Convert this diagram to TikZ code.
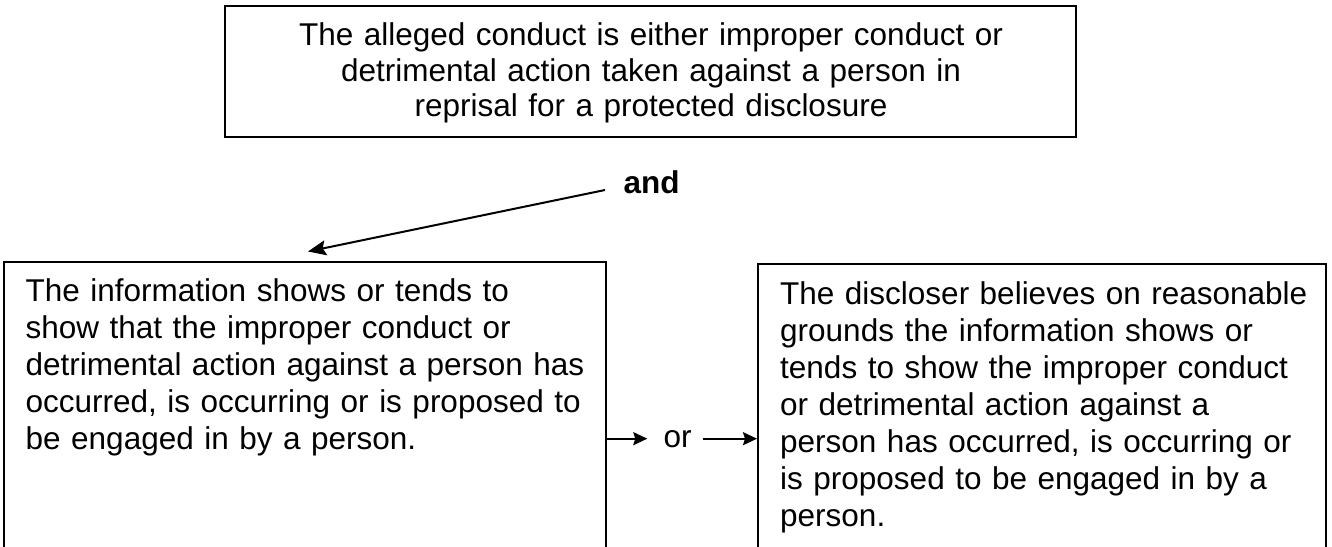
\documentclass[tikz,border=0pt]{standalone}
\usepackage{fontspec}
\setmainfont{Liberation Sans}
\usetikzlibrary{arrows.meta,calc}
\begin{document}
\begin{tikzpicture}[x=1pt,y=-1pt,
  boxshape/.style={draw=black, line width=2pt, rectangle, inner sep=0pt},
  bodytext/.style={inner sep=0pt, font=\fontsize{31.5pt}{36.9pt}\selectfont},
  andarrow/.style={line width=2pt, -{Stealth[length=18pt,width=15pt,inset=3pt]}},
  orarrow/.style={line width=2pt, -{Stealth[length=14pt,width=13pt,inset=2pt]}}]
\useasboundingbox (0,0) rectangle (1332,546);
\clip (0,0) rectangle (1332,546);
% boxes
\node[boxshape, minimum width=851pt, minimum height=131pt] (topbox) at (650.5,71.5) {};
\node[boxshape, minimum width=602pt, minimum height=338pt] (leftbox) at (305,431) {};
\node[boxshape, minimum width=568pt, minimum height=336pt] (rightbox) at (1042,432) {};
% texts
\node[bodytext, text width=840pt, align=center, anchor=base, font=\fontsize{31.5pt}{35.5pt}\selectfont] (toptext) at (651,45.7)
  {The alleged conduct is either improper conduct or\\ detrimental action taken against a person in\\ reprisal for a protected disclosure};
\node[bodytext, text width=590pt, align=left, anchor=base west] (lefttext) at (25.5,301.5)
  {The information shows or tends to\\ show that the improper conduct or\\ detrimental action against a person has\\ occurred, is occurring or is proposed to\\ be engaged in by a person.};
\node[bodytext, text width=540pt, align=left, anchor=base west, font=\fontsize{31.5pt}{37pt}\selectfont] (righttext) at (780,304)
  {The discloser believes on reasonable\\ grounds the information shows or\\ tends to show the improper conduct\\ or detrimental action against a\\ person has occurred, is occurring or\\ is proposed to be engaged in by a\\ person.};
\node[bodytext, anchor=base, font=\bfseries\fontsize{31.5pt}{36.9pt}\selectfont] (andlabel) at (651.5,193.5) {and};
\node[bodytext, anchor=base] (orlabel) at (677.5,447) {or};
% connectors
\coordinate (andstart) at (605,190);
\coordinate (andtip) at (308,251.5);
\draw[andarrow] (andstart) -- (andtip);
\draw[orarrow] (leftbox.east |- orlabel.center) -- ([xshift=-16pt]orlabel.west);
\draw[orarrow] ([xshift=11pt]orlabel.east) -- (rightbox.west |- orlabel.center);
\end{tikzpicture}
\end{document}
